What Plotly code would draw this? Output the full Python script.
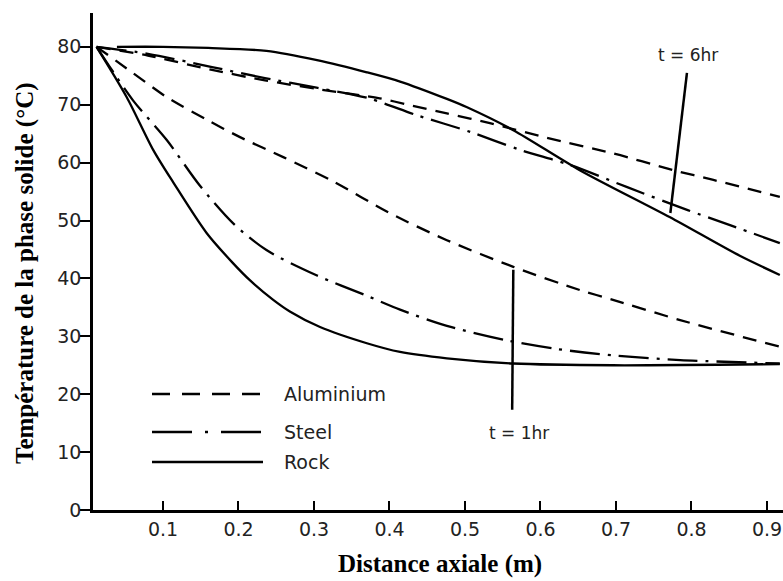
import plotly.graph_objects as go

# ---- data ----
alu_1h_x = [0.012, 0.06, 0.105, 0.158, 0.202, 0.26, 0.325, 0.4, 0.476, 0.564, 0.652, 0.696, 0.785, 0.917]
alu_1h_y = [80, 75.5, 71.3, 67.4, 64.4, 60.9, 56.8, 51.3, 46.6, 42.0, 38.0, 36.3, 32.8, 28.2]

steel_1h_x = [0.012, 0.06, 0.105, 0.149, 0.193, 0.237, 0.304, 0.37, 0.414, 0.476, 0.555, 0.622, 0.696, 0.785, 0.917]
steel_1h_y = [80, 70.8, 63.9, 56.0, 49.5, 44.9, 40.5, 37.0, 34.6, 31.8, 29.3, 27.8, 26.7, 25.9, 25.3]

rock_1h_x = [0.012, 0.052, 0.087, 0.114, 0.158, 0.193, 0.215, 0.246, 0.268, 0.308, 0.37, 0.414, 0.476, 0.564, 0.696, 0.917]
rock_1h_y = [80, 71.3, 62.2, 56.5, 47.8, 42.6, 39.7, 36.3, 34.3, 31.6, 28.8, 27.3, 26.2, 25.3, 25.0, 25.2]

alu_6h_x = [0.012, 0.08, 0.165, 0.235, 0.305, 0.387, 0.431, 0.476, 0.533, 0.608, 0.696, 0.776, 0.829, 0.917]
alu_6h_y = [80, 78.5, 76.0, 74.2, 72.7, 71.1, 69.8, 68.5, 66.8, 64.3, 61.6, 58.7, 57.0, 54.1]

steel_6h_x = [0.012, 0.08, 0.165, 0.235, 0.305, 0.37, 0.436, 0.507, 0.573, 0.639, 0.714, 0.795, 0.851, 0.917]
steel_6h_y = [80, 78.8, 76.5, 74.6, 72.9, 71.2, 68.2, 65.3, 62.2, 59.6, 55.8, 51.8, 49.2, 46.1]

rock_6h_x = [0.039, 0.1, 0.16, 0.237, 0.304, 0.37, 0.414, 0.476, 0.502, 0.564, 0.652, 0.771, 0.864, 0.917]
rock_6h_y = [80, 80, 79.8, 79.3, 77.7, 75.6, 74.0, 71.0, 69.6, 65.6, 58.7, 50.6, 43.9, 40.6]

x_ticks = [0.1, 0.2, 0.3, 0.4, 0.5, 0.6, 0.7, 0.8, 0.9]
x_tick_labels = ["0.1", "0.2", "0.3", "0.4", "0.5", "0.6", "0.7", "0.8", "0.9"]
y_ticks = [0, 10, 20, 30, 40, 50, 60, 70, 80]
y_tick_labels = ["0", "10", "20", "30", "40", "50", "60", "70", "80"]

legend_names = ["Aluminium", "Steel", "Rock"]

ALU_DASH = "14px,9px"
STEEL_DASH = "30px,8px,3px,8px"
LW = 2.3

fig = go.Figure()

series = [
    (alu_1h_x, alu_1h_y, ALU_DASH),
    (steel_1h_x, steel_1h_y, STEEL_DASH),
    (rock_1h_x, rock_1h_y, "solid"),
    (alu_6h_x, alu_6h_y, ALU_DASH),
    (steel_6h_x, steel_6h_y, STEEL_DASH),
    (rock_6h_x, rock_6h_y, "solid"),
]
for xs, ys, dash in series:
    fig.add_trace(go.Scatter(
        x=xs, y=ys, mode="lines", showlegend=False,
        line=dict(color="black", width=LW, dash=dash, shape="spline", smoothing=0.8),
        hoverinfo="skip",
    ))

# ---- layout geometry ----
W, H = 783, 581
ML, MR, MT, MB = 93, 0, 13, 71
PW, PH = W - ML - MR, H - MT - MB


def px_to_paper(px, py):
    return (px - ML) / PW, (H - MB - py) / PH


shapes = []
annotations = []

# custom legend
legend_dashes = ["18px,12px", "40px,13px,3px,13px", "solid"]
legend_rows_py = [394, 432, 462]
for name, dash, py in zip(legend_names, legend_dashes, legend_rows_py):
    x0, y0 = px_to_paper(152, py)
    x1, _ = px_to_paper(263, py)
    shapes.append(dict(type="line", xref="paper", yref="paper", x0=x0, x1=x1, y0=y0, y1=y0,
                       line=dict(color="black", width=2.5, dash=dash)))
    tx, _ = px_to_paper(282, py)
    annotations.append(dict(text=name, xref="paper", yref="paper", x=tx, y=y0,
                            xanchor="left", yanchor="middle", showarrow=False,
                            font=dict(family="DejaVu Sans", size=19, color="#222")))

# time labels and leader lines
shapes.append(dict(type="line", xref="x", yref="y", x0=0.794, y0=75.5, x1=0.772, y1=51.3,
                   line=dict(color="black", width=2.5)))
shapes.append(dict(type="line", xref="x", yref="y", x0=0.564, y0=41.5, x1=0.5625, y1=17.3,
                   line=dict(color="black", width=2.5)))
annotations.append(dict(text="t = 6hr", x=0.795, y=78.6, xref="x", yref="y", showarrow=False,
                        xanchor="center", yanchor="middle",
                        font=dict(family="DejaVu Sans", size=17, color="#222")))
annotations.append(dict(text="t = 1hr", x=0.5715, y=13.3, xref="x", yref="y", showarrow=False,
                        xanchor="center", yanchor="middle",
                        font=dict(family="DejaVu Sans", size=17, color="#222")))

# axis titles
tx, ty = px_to_paper(25, 273)
annotations.append(dict(text="<b>Température de la phase solide (°C)</b>", x=tx, y=ty,
                        xref="paper", yref="paper", showarrow=False, textangle=-90,
                        xanchor="center", yanchor="middle",
                        font=dict(family="Liberation Serif", size=25, color="black")))
tx, ty = px_to_paper(440, 564)
annotations.append(dict(text="<b>Distance axiale (m)</b>", x=tx, y=ty,
                        xref="paper", yref="paper", showarrow=False,
                        xanchor="center", yanchor="middle",
                        font=dict(family="Liberation Serif", size=25, color="black")))

fig.update_layout(
    width=W, height=H,
    margin=dict(l=ML, r=MR, t=MT, b=MB, pad=0),
    paper_bgcolor="white", plot_bgcolor="white",
    showlegend=False,
    shapes=shapes, annotations=annotations,
    xaxis=dict(range=[0.0073, 0.9212], tickvals=x_ticks, ticktext=x_tick_labels,
               showgrid=False, zeroline=False, showline=True, linecolor="black", linewidth=2.5,
               ticks="inside", ticklen=9, tickwidth=2, tickcolor="black",
               tickfont=dict(family="DejaVu Sans", size=19, color="#222")),
    yaxis=dict(range=[0, 85.84], tickvals=y_ticks, ticktext=y_tick_labels,
               showgrid=False, zeroline=False, showline=True, linecolor="black", linewidth=2.5,
               ticks="outside", ticklen=10, tickwidth=2, tickcolor="black",
               ticklabelstandoff=-5,
               tickfont=dict(family="DejaVu Sans", size=19, color="#222")),
)

fig.write_html("out.html")
